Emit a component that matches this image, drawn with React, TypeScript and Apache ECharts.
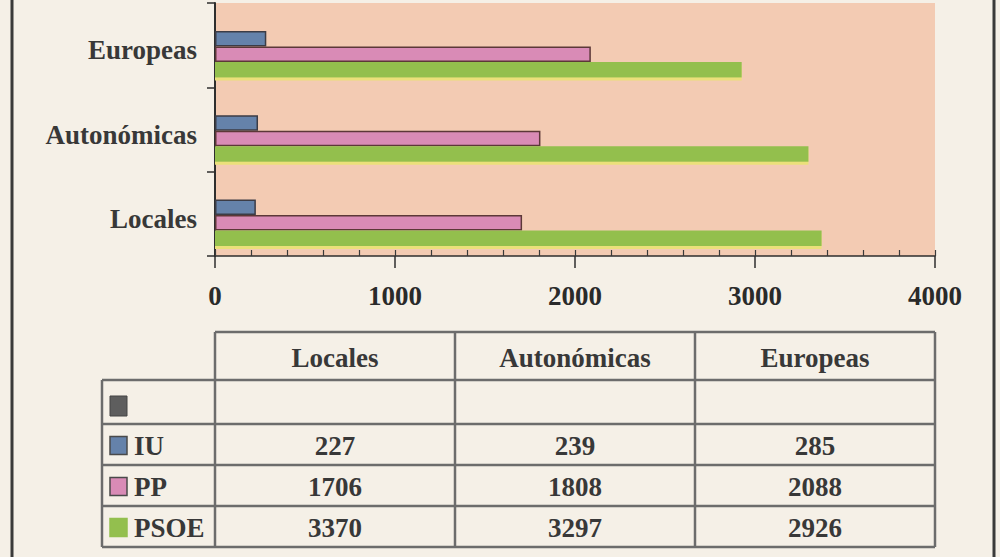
import React, { useEffect, useRef } from "react";
import * as echarts from "echarts";

const categories = ["Locales", "Autonómicas", "Europeas"];
const seriesNames = ["IU", "PP", "PSOE"];
const iuValues = [227, 239, 285];
const ppValues = [1706, 1808, 2088];
const psoeValues = [3370, 3297, 2926];
const xTickLabels = [0, 1000, 2000, 3000, 4000];

const COLORS = { IU: "#6582aa", PP: "#d98bb6", PSOE: "#93bf4e" };
const BORDERS = { IU: "#3c3c46", PP: "#5c3838", PSOE: "#93bf4e" };
const FONT = 'bold 27px "Liberation Serif", "DejaVu Serif", serif';
const TEXT = "#383838";
const LINE = "#6c6c6c";

function buildTable() {
  const colX = [102, 215, 455, 695, 935];
  const rowY = [332, 380, 424, 465, 506, 547];
  const els: any[] = [];
  const line = (x1: number, y1: number, x2: number, y2: number) =>
    els.push({ type: "line", shape: { x1, y1, x2, y2 }, style: { stroke: LINE, lineWidth: 2.5 }, z: 10 });
  const text = (t: string, x: number, y: number, align = "center") =>
    els.push({
      type: "text",
      x,
      y,
      style: { text: t, font: FONT, fill: TEXT, align, verticalAlign: "middle" },
      z: 11,
    });
  line(colX[1], rowY[0], colX[4], rowY[0]);
  for (let r = 1; r < rowY.length; r++) line(colX[0], rowY[r], colX[4], rowY[r]);
  line(colX[0], rowY[1], colX[0], rowY[5]);
  for (let c = 1; c < colX.length; c++) line(colX[c], rowY[0], colX[c], rowY[5]);
  categories.forEach((cat, i) => text(cat, (colX[i + 1] + colX[i + 2]) / 2, (rowY[0] + rowY[1]) / 2 + 2));
  els.push({ type: "rect", shape: { x: 110, y: 396, width: 17, height: 20 }, style: { fill: "#5e5e5e", stroke: "#444", lineWidth: 1 }, z: 11 });
  const rows = [iuValues, ppValues, psoeValues];
  rows.forEach((vals, r) => {
    const name = seriesNames[r] as "IU" | "PP" | "PSOE";
    const cy = (rowY[r + 2] + rowY[r + 3]) / 2 + 1;
    els.push({
      type: "rect",
      shape: { x: 110, y: cy - 9, width: 17, height: 18 },
      style: { fill: COLORS[name], stroke: name === "PSOE" ? COLORS[name] : "#4a4a4a", lineWidth: 1.5 },
      z: 11,
    });
    text(name, 134, cy, "left");
    vals.forEach((v, c) => text(String(v), (colX[c + 1] + colX[c + 2]) / 2, cy));
  });
  els.push({ type: "line", shape: { x1: 12, y1: 0, x2: 12, y2: 557 }, style: { stroke: "#3a3a3a", lineWidth: 3 }, z: 10 });
  els.push({ type: "line", shape: { x1: 994, y1: 0, x2: 994, y2: 557 }, style: { stroke: "#3a3a3a", lineWidth: 3 }, z: 10 });
  return els;
}

export default function App() {
  const ref = useRef<HTMLDivElement>(null);
  useEffect(() => {
    document.body.style.margin = "0";
    const chart = echarts.init(ref.current!, null, { renderer: "svg" });
    const gridA = { left: 215, right: 65, top: 3, bottom: 301 };
    const gridB = { left: 215, right: 65, top: 12, bottom: 292 };
    const xMin = xTickLabels[0];
    const xMax = xTickLabels[xTickLabels.length - 1];
    const xInt = xTickLabels[1] - xTickLabels[0];
    const mkBar = (name: "IU" | "PP" | "PSOE", data: number[]) => ({
      name,
      type: "bar",
      xAxisIndex: 2,
      yAxisIndex: 1,
      data,
      barWidth: 15.5,
      barGap: "0%",
      itemStyle:
        name === "PSOE"
          ? { color: COLORS[name], shadowColor: "#ebe07a", shadowOffsetY: 3, shadowBlur: 0 }
          : { color: COLORS[name], borderColor: BORDERS[name], borderWidth: 1.5 },
    });
    chart.setOption({
      animation: false,
      backgroundColor: "#f5f0e7",
      grid: [
        { ...gridA, show: true, backgroundColor: "#f3cbb3", borderWidth: 0 },
        { ...gridB },
      ],
      xAxis: [
        {
          gridIndex: 0,
          type: "value",
          min: xMin,
          max: xMax,
          interval: xInt,
          axisLine: { show: true, lineStyle: { color: "#2e2e2e", width: 1.5 } },
          axisTick: { show: true, inside: false, length: 12, lineStyle: { color: "#2e2e2e", width: 1.5 } },
          splitLine: { show: false },
          axisLabel: {
            margin: 26,
            fontFamily: '"Liberation Serif", serif',
            fontWeight: "bold",
            fontSize: 27,
            color: "#2a2a2a",
            formatter: (v: number) => String(v),
          },
        },
        {
          gridIndex: 0,
          type: "value",
          position: "bottom",
          min: xMin,
          max: xMax,
          interval: xInt / 5,
          axisLine: { show: false },
          axisTick: { show: true, inside: true, length: 6, lineStyle: { color: "#3a3a3a", width: 1.2 } },
          splitLine: { show: false },
          axisLabel: { show: false },
        },
        {
          gridIndex: 1,
          type: "value",
          min: xMin,
          max: xMax,
          show: false,
        },
      ],
      yAxis: [
        {
          gridIndex: 0,
          type: "category",
          data: categories,
          axisLine: { show: true, lineStyle: { color: "#2e2e2e", width: 2 } },
          axisTick: { show: true, length: 8, lineStyle: { color: "#2e2e2e", width: 1.5 } },
          axisLabel: {
            margin: 18,
            fontFamily: '"Liberation Serif", serif',
            fontWeight: "bold",
            fontSize: 27,
            color: TEXT,
            verticalAlign: "top",
            lineHeight: 10,
          },
        },
        {
          gridIndex: 1,
          type: "category",
          data: categories,
          show: false,
        },
      ],
      series: [mkBar("IU", iuValues), mkBar("PP", ppValues), mkBar("PSOE", psoeValues)],
      graphic: buildTable(),
    });
    return () => chart.dispose();
  }, []);
  return <div ref={ref} style={{ position: "absolute", left: 0, top: 0, width: 1000, height: 557 }} />;
}
